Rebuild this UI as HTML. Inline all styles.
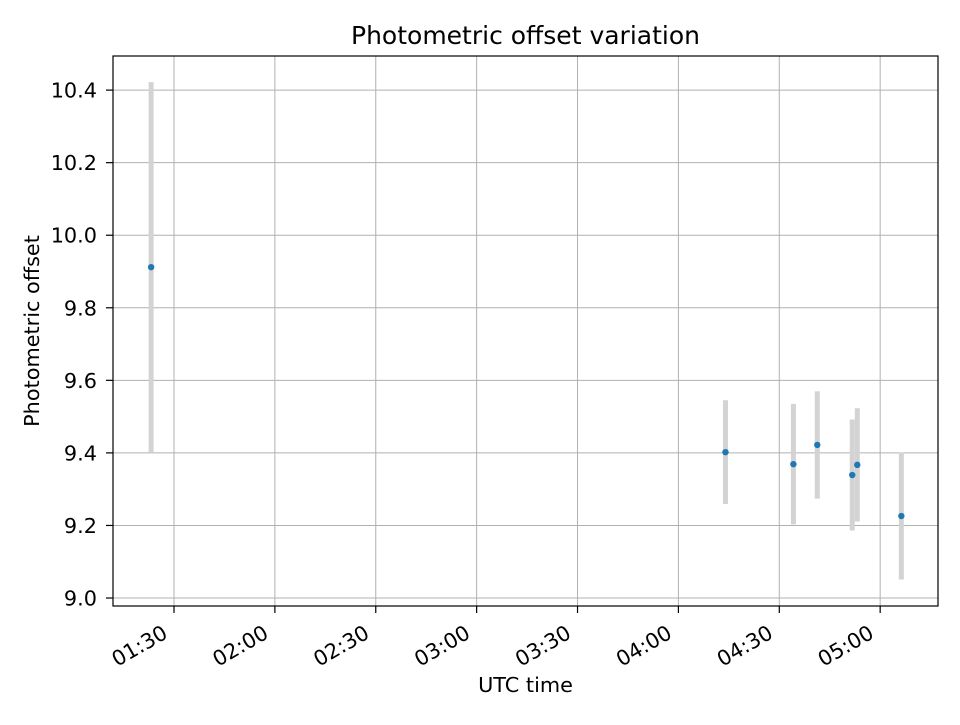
<!DOCTYPE html>
<html><head><meta charset="utf-8"><style>
body{margin:0;background:#fff;}
svg text{font-family:"DejaVu Sans","Liberation Sans",sans-serif;}
</style></head><body>
<svg id="chart" width="960" height="720" xmlns="http://www.w3.org/2000/svg"></svg>
<script>
const times = [83.2, 254.0, 274.2, 281.3, 291.7, 293.2, 306.3]; // minutes since 00:00 UTC
const values = [9.912, 9.402, 9.369, 9.422, 9.339, 9.367, 9.226];
const errors = [0.51, 0.143, 0.166, 0.148, 0.153, 0.156, 0.175];
const xTicks = [90, 120, 150, 180, 210, 240, 270, 300];
const xTickLabels = ["01:30","02:00","02:30","03:00","03:30","04:00","04:30","05:00"];
const yTicks = [9.0, 9.2, 9.4, 9.6, 9.8, 10.0, 10.2, 10.4];
const yTickLabels = ["9.0","9.2","9.4","9.6","9.8","10.0","10.2","10.4"];

const L=113,R=938,T=56,B=606;
const xMin=71.86,xMax=317.2,yMin=8.978,yMax=10.494;
const X=m=>L+(m-xMin)/(xMax-xMin)*(R-L);
const Y=v=>B-(v-yMin)/(yMax-yMin)*(B-T);
const svg=document.getElementById('chart');
const NS="http://www.w3.org/2000/svg";
function mk(tag,attrs,parent){const e=document.createElementNS(NS,tag);for(const k in attrs)e.setAttribute(k,attrs[k]);(parent||svg).appendChild(e);return e;}

const grid=mk('g',{});


xTicks.forEach((t,i)=>{
  const x=X(t);
  mk('line',{x1:x,x2:x,y1:T,y2:B,stroke:'#b0b0b0','stroke-width':1},grid);
  mk('line',{x1:x,x2:x,y1:B,y2:B+7,stroke:'#000','stroke-width':1.2});
  const ax=x-5, ay=B+31;
  const tx=mk('text',{x:ax,y:ay,'font-size':20.8,'text-anchor':'end',transform:`rotate(-30 ${ax} ${ay})`});
  tx.textContent=xTickLabels[i];
  
  
});
yTicks.forEach((t,i)=>{
  const y=Y(t);
  mk('line',{x1:L,x2:R,y1:y,y2:y,stroke:'#b0b0b0','stroke-width':1},grid);
  mk('line',{x1:L-7,x2:L,y1:y,y2:y,stroke:'#000','stroke-width':1.2});
  const tx=mk('text',{x:L-16,y:y+7.5,'font-size':20.8,'text-anchor':'end'});
  tx.textContent=yTickLabels[i];
  
  
});
times.forEach((t,i)=>{
  const x=X(t);
  const eb=mk('line',{x1:x,x2:x,y1:Y(values[i]+errors[i]),y2:Y(values[i]-errors[i]),stroke:'#d3d3d3','stroke-width':5});
  
  
});
times.forEach((t,i)=>{
  const p=mk('circle',{cx:X(t),cy:Y(values[i]),r:3.2,fill:'#1f77b4'});
  
  
});
const fr=mk('rect',{x:L,y:T,width:R-L,height:B-T,fill:'none',stroke:'#000','stroke-width':1.2});


const ti=mk('text',{x:(L+R)/2,y:44,'font-size':25,'text-anchor':'middle'});
ti.textContent='Photometric offset variation';


const xl=mk('text',{x:(L+R)/2,y:692,'font-size':20.8,'text-anchor':'middle'});
xl.textContent='UTC time';


const yl=mk('text',{x:39,y:(T+B)/2,'font-size':20.8,'text-anchor':'middle',transform:`rotate(-90 39 ${(T+B)/2})`});
yl.textContent='Photometric offset';


</script>
</body></html>
